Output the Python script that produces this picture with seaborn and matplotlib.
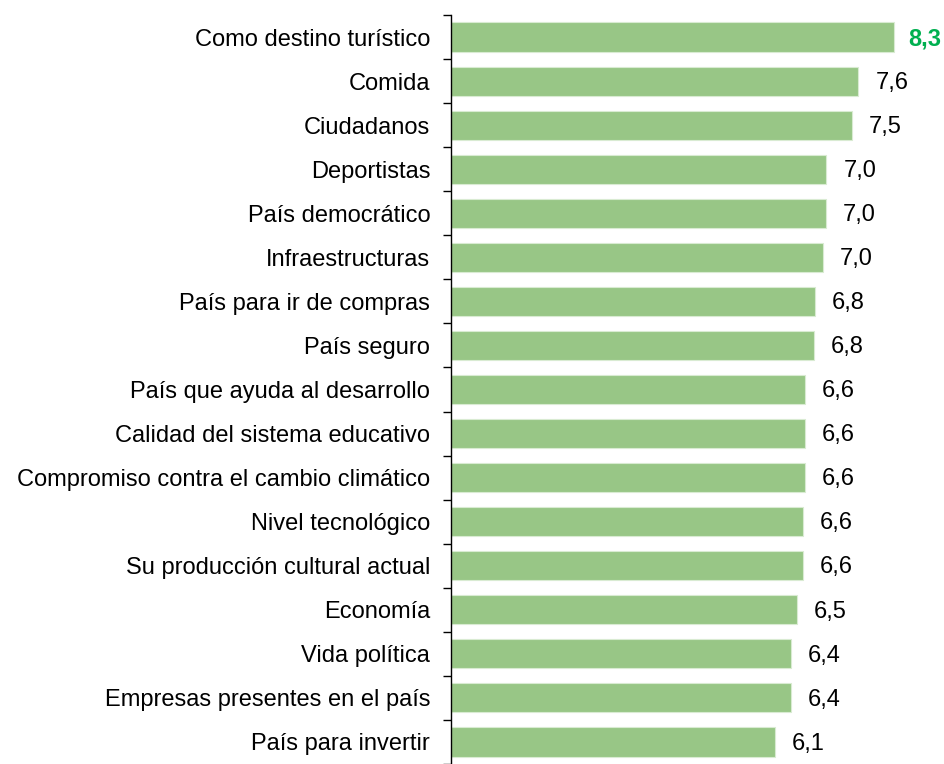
import numpy as np
import pandas as pd
import matplotlib
matplotlib.use("Agg")
import matplotlib.pyplot as plt
import seaborn as sns

# =====================================
# Data
# =====================================
categories = [
    "Como destino turístico",
    "Comida",
    "Ciudadanos",
    "Deportistas",
    "País democrático",
    "Infraestructuras",
    "País para ir de compras",
    "País seguro",
    "País que ayuda al desarrollo",
    "Calidad del sistema educativo",
    "Compromiso contra el cambio climático",
    "Nivel tecnológico",
    "Su producción cultural actual",
    "Economía",
    "Vida política",
    "Empresas presentes en el país",
    "País para invertir",
]
values = [8.31, 7.64, 7.52, 7.04, 7.03, 6.98, 6.83, 6.81,
          6.64, 6.64, 6.64, 6.60, 6.60, 6.49, 6.38, 6.38, 6.08]

df = pd.DataFrame({"categoria": categories, "valor": values})

# =====================================
# Plot
# =====================================
sns.set_style("white")
plt.rcParams["font.family"] = ["Liberation Sans", "DejaVu Sans"]

fig = plt.figure(figsize=(9.45, 7.64), dpi=100)
ax = fig.add_axes([451 / 945, 0.0, 1 - 451 / 945, 1 - 15 / 764])

sns.barplot(
    data=df,
    x="valor",
    y="categoria",
    orient="h",
    color="#98C686",
    saturation=1,
    width=0.66,
    edgecolor="#D9EBD2",
    linewidth=0.8,
    ax=ax,
)

ax.set_xlim(0, 494 / 53.3)
ax.set_ylim(len(categories) - 0.5, -0.5)

for i, v in enumerate(values):
    txt = f"{v:.1f}".replace(".", ",")
    if i == 0:
        ax.text(v + 0.26, i + 0.04, txt, va="center", ha="left",
                fontsize=17, color="#00B050", fontweight="bold")
    else:
        ax.text(v + 0.32, i + 0.04, txt, va="center", ha="left",
                fontsize=17, color="black")

ax.set_xlabel("")
ax.set_ylabel("")
ax.set_xticks([])
ax.tick_params(axis="y", which="major", length=0, labelsize=17,
               labelcolor="black", pad=15)
ax.set_yticks(np.arange(-0.5, len(categories), 1), minor=True)
ax.tick_params(axis="y", which="minor", left=True, length=6, width=1,
               color="black")

for s in ["top", "right", "bottom"]:
    ax.spines[s].set_visible(False)
ax.spines["left"].set_color("black")
ax.spines["left"].set_linewidth(1)

plt.savefig("out.png", dpi=100)
